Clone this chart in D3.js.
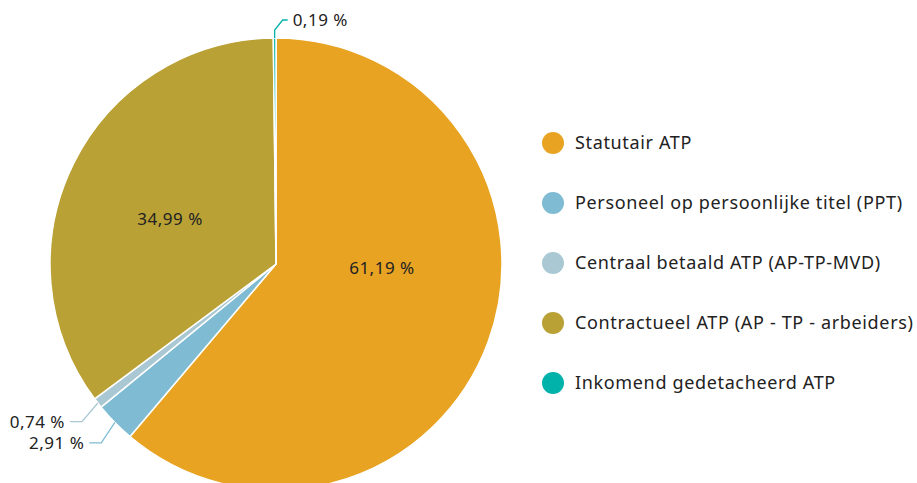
<!DOCTYPE html>
<html><head><meta charset="utf-8">
<script src="https://cdn.jsdelivr.net/npm/d3@7"></script>
<style>html,body{margin:0;padding:0;background:#fff;overflow:hidden}</style>
</head><body>
<svg id="c" width="917" height="483"></svg>
<script>
const categories = ["Statutair ATP","Personeel op persoonlijke titel (PPT)","Centraal betaald ATP (AP-TP-MVD)","Contractueel ATP (AP - TP - arbeiders)","Inkomend gedetacheerd ATP"];
const values = [61.19, 2.91, 0.74, 34.99, 0.19];
const labels = ["61,19 %","2,91 %","0,74 %","34,99 %","0,19 %"];
const colors = ["#E8A323","#7FBCD4","#A9C8D4","#B9A135","#00B2A9"];

const svg = d3.select("#c");
const font = "'Noto Sans', sans-serif";
const cx = 276, cy = 264, R = 226;
const g = svg.append("g").attr("transform", `translate(${cx},${cy})`);
const pie = d3.pie().sort(null).value(d => d)(values);
const arc = d3.arc().innerRadius(0).outerRadius(R);
g.selectAll("path").data(pie).join("path")
  .attr("d", arc).attr("fill", (d,i)=>colors[i])
  .attr("stroke", "#fff").attr("stroke-width", 1.5).attr("stroke-linejoin","round");

const mid = d => (d.startAngle + d.endAngle)/2;
const pt = (a, r) => [r*Math.sin(a), -r*Math.cos(a)];

// inside labels for big slices
const inside = pie.filter(d => d.value > 10);
const inPos = d => d.index===0 ? pt(Math.PI*0.511, 106) : pt(mid(d) - 0.06, 115);
g.selectAll("text.in").data(inside).join("text")
  .attr("class","in")
  .attr("x", d => inPos(d)[0]).attr("y", d => inPos(d)[1])
  .attr("dy","0.35em").attr("text-anchor","middle")
  .attr("font-family", font).attr("font-size", 17).attr("letter-spacing", 0.5).attr("fill","#222")
  .text(d => labels[d.index]);

// outside labels with leader lines
const outside = pie.filter(d => d.value <= 10);
outside.forEach(d => {
  const a = mid(d);
  const p0 = pt(a, R);
  let pts, tx, ty, anchor;
  if (d.index === 4) {
    pts = [p0, [p0[0], p0[1]-8], [p0[0]+8, p0[1]-18], [p0[0]+13, p0[1]-18]];
    tx = p0[0]+18; ty = p0[1]-18; anchor = "start";
  } else {
    const p1 = pt(a - 0.02, R+24);
    const len = 12;
    pts = [p0, p1, [p1[0]-len, p1[1]]];
    tx = p1[0]-len-5; ty = p1[1]; anchor = "end";
  }
  g.append("path").attr("d", d3.line()(pts)).attr("fill","none")
    .attr("stroke", colors[d.index]).attr("stroke-width", 1.3);
  g.append("text").attr("x", tx).attr("y", ty).attr("dy","0.35em")
    .attr("text-anchor", anchor).attr("font-family", font).attr("font-size", 17).attr("letter-spacing", 0.5)
    .attr("fill","#222").text(labels[d.index]);
});

// legend
const ly = d3.scalePoint().domain(categories).range([143, 383]);
const leg = svg.append("g");
leg.selectAll("circle").data(categories).join("circle")
  .attr("cx", 553).attr("cy", d => ly(d)).attr("r", 11)
  .attr("fill", (d,i)=>colors[i]);
leg.selectAll("text").data(categories).join("text")
  .attr("x", 575).attr("y", d => ly(d)).attr("dy","0.35em")
  .attr("font-family", font).attr("font-size", 18).attr("letter-spacing", 0.65).attr("fill","#222")
  .text(d => d);
</script>
</body></html>
